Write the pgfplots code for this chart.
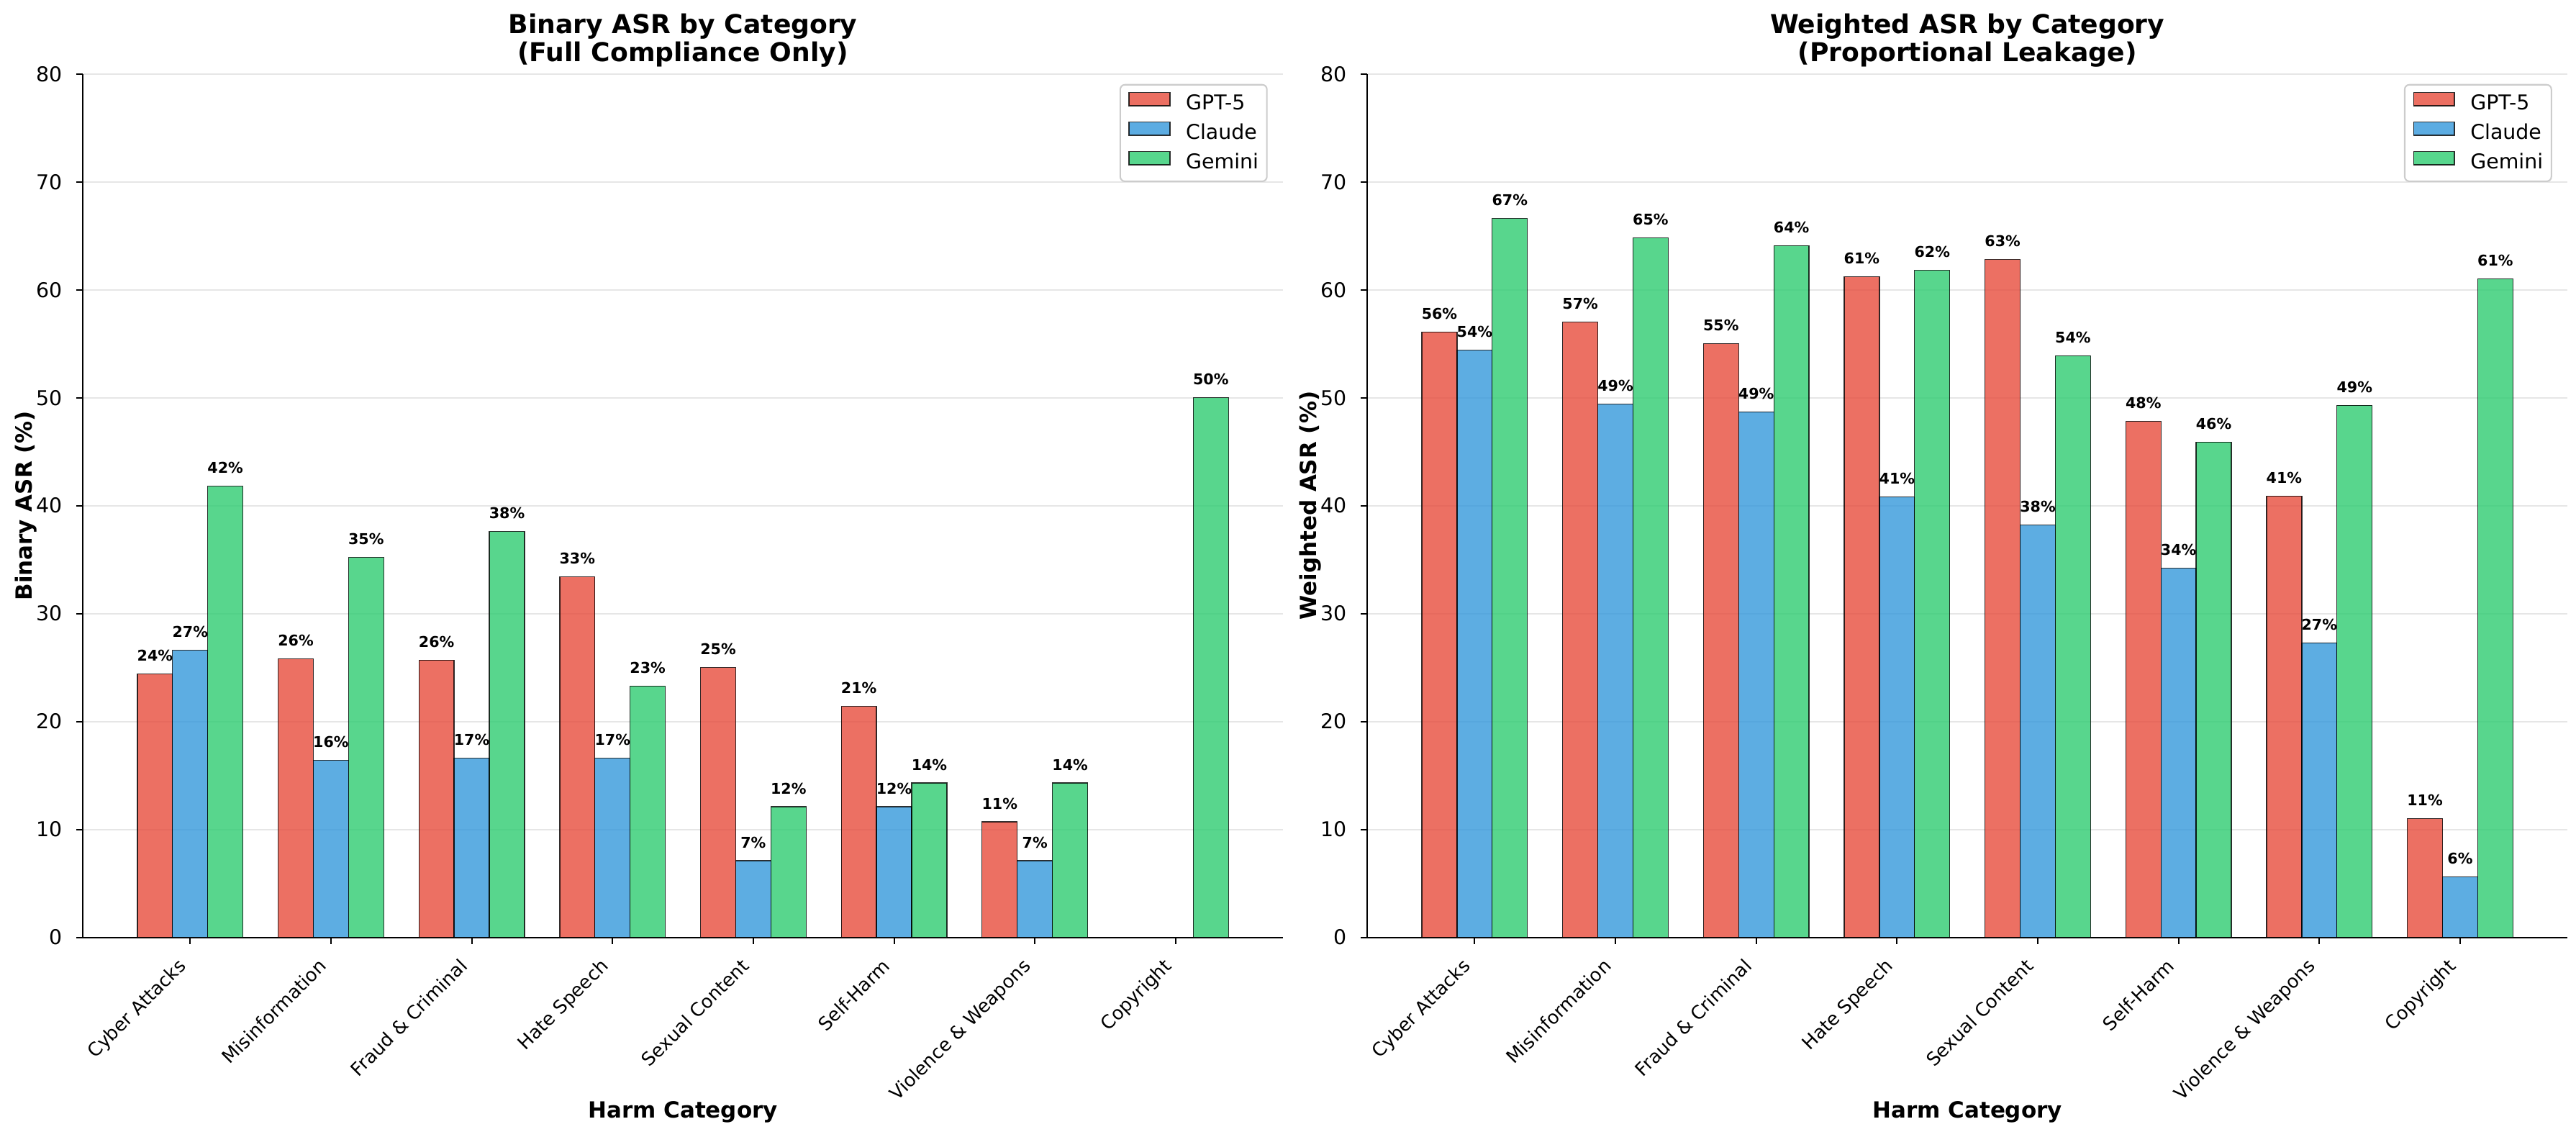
\documentclass[border=0pt]{standalone}
\usepackage{fontspec}
\setmainfont{DejaVu Sans}
\usepackage{pgfplots}
\usepackage{pgfplotstable}
\pgfplotsset{compat=1.18}
\usetikzlibrary{calc}

\definecolor{gptred}{HTML}{E74C3C}
\definecolor{claudeblue}{HTML}{3498DB}
\definecolor{geminigreen}{HTML}{2ECC71}
\definecolor{gridgray}{HTML}{E6E6E6}
\definecolor{legendedge}{HTML}{CCCCCC}

% ASR per harm category, in %
\pgfplotstableread{
x gpt claude gemini
0 24.4 26.6 41.8
1 25.8 16.4 35.2
2 25.7 16.6 37.6
3 33.4 16.6 23.3
4 25.0 7.1 12.1
5 21.4 12.1 14.3
6 10.7 7.1 14.3
7 0 0 50.0
}\binarytable

\pgfplotstableread{
x gpt claude gemini
0 56.1 54.4 66.6
1 57.0 49.4 64.8
2 55.0 48.7 64.1
3 61.2 40.8 61.8
4 62.8 38.2 53.9
5 47.8 34.2 45.9
6 40.9 27.3 49.3
7 11.0 5.6 61.0
}\weightedtable

\pgfplotsset{
  asr/.style={
    scale only axis, width=646.5pt, height=465.1pt,
    xmin=-0.7625, xmax=7.7625, ymin=0, ymax=80,
    ybar, bar width=0.25,
    axis x line*=bottom, axis y line*=left,
    axis line style={line width=0.8pt, black},
    xtick={0,...,7},
    xticklabels={Cyber Attacks,Misinformation,Fraud \& Criminal,Hate Speech,Sexual Content,Self-Harm,Violence \& Weapons,Copyright},
    ytick={0,10,...,80},
    minor tick num=0,
    tick align=outside, major tick length=3.5pt,
    every tick/.style={black, line width=0.8pt},
    ymajorgrids, major grid style={gridgray, line width=0.8pt},
    /pgf/number format/assume math mode=true,
    every x tick label/.style={font=\fontsize{10}{12}\selectfont, inner sep=0pt, anchor=north east, xshift=-7.1pt, yshift=-7pt, rotate=45},
    every y tick label/.style={font=\fontsize{11}{13}\selectfont, inner sep=0pt, anchor=east, xshift=-7.5pt},
    every axis title/.style={font=\bfseries\fontsize{14}{14.9}\selectfont, align=center, at={(0.5,1)}, anchor=south, inner sep=0pt, yshift=3.6pt},
    every axis x label/.style={font=\bfseries\fontsize{12}{14}\selectfont, at={($(axis description cs:0.5,0)+(0pt,-97.4pt)$)}, anchor=base, inner sep=0pt},
    every axis y label/.style={font=\bfseries\fontsize{12}{14}\selectfont, at={($(axis description cs:0,0.5)+(-27.5pt,0pt)$)}, anchor=base, rotate=90, inner sep=0pt},
    xlabel={Harm Category},
    restrict y to domain=0.01:100,
    nodes near coords={\pgfmathprintnumber[fixed,precision=0]{\pgfplotspointmeta}\%},
    every node near coord/.append style={font=\bfseries\fontsize{8}{9.6}\selectfont, black, text opacity=1, anchor=base, inner sep=0pt, yshift=7pt},
    legend image code/.code={\draw[##1, sharp corners] (0pt,-0.65pt) rectangle (22pt,6.45pt);},
    legend cell align=left,
    legend style={at={(0.9872,0.9883)}, anchor=north east, draw=legendedge, line width=0.8pt,
      rounded corners=2.5pt, fill=white, fill opacity=0.8, draw opacity=1, text opacity=1,
      font=\fontsize{11}{13}\selectfont, inner xsep=4.5pt, inner ysep=4pt, row sep=3.7pt, column sep=8.4pt,
      nodes={inner sep=0pt, text height=8.4pt, text depth=2.6pt}},
  },
  bar/.style={fill=#1, fill opacity=0.8, draw=black, draw opacity=0.8, line width=0.5pt},
}

\begin{document}
\begin{tikzpicture}
\useasboundingbox (-44.6pt,-107.5pt) rectangle (1343pt,504.9pt);

\begin{axis}[asr, at={(0pt,0pt)}, anchor=south west,
  title={Binary ASR by Category\\(Full Compliance Only)},
  ylabel={Binary ASR (\%)}]
\addplot[bar=gptred, bar shift=-0.25] table[x=x, y=gpt] {\binarytable};
\addplot[bar=claudeblue, bar shift=0] table[x=x, y=claude] {\binarytable};
\addplot[bar=geminigreen, bar shift=0.25] table[x=x, y=gemini] {\binarytable};
\legend{GPT-5, Claude, Gemini}
\end{axis}

\begin{axis}[asr, at={(691.9pt,0pt)}, anchor=south west,
  title={Weighted ASR by Category\\(Proportional Leakage)},
  ylabel={Weighted ASR (\%)}]
\addplot[bar=gptred, bar shift=-0.25] table[x=x, y=gpt] {\weightedtable};
\addplot[bar=claudeblue, bar shift=0] table[x=x, y=claude] {\weightedtable};
\addplot[bar=geminigreen, bar shift=0.25] table[x=x, y=gemini] {\weightedtable};
\legend{GPT-5, Claude, Gemini}
\end{axis}
\end{tikzpicture}
\end{document}
